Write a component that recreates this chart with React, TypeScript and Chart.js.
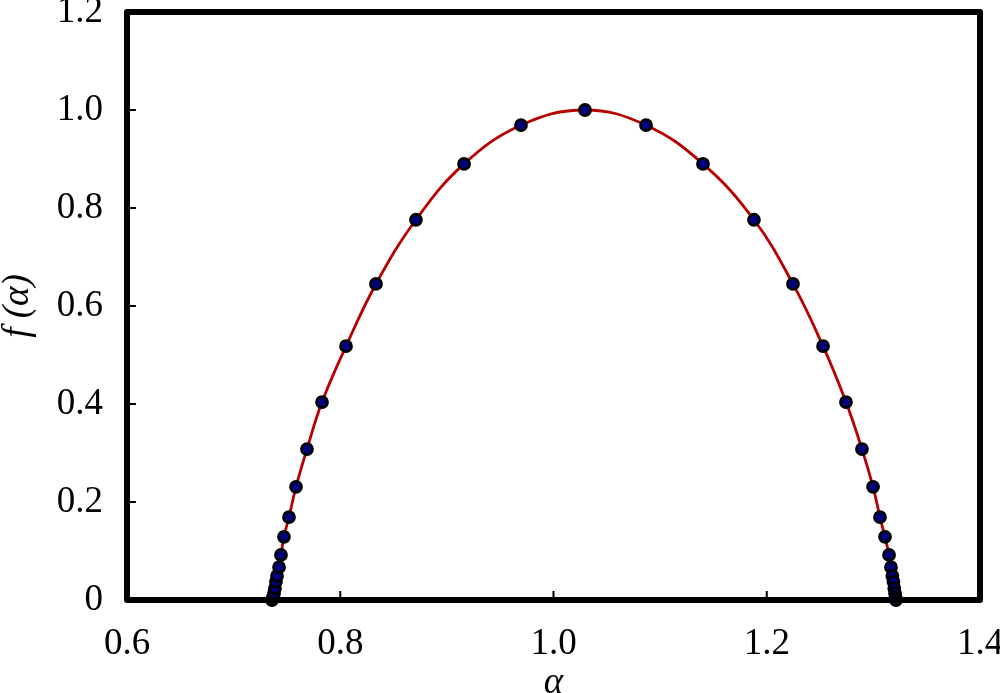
import React, { useEffect, useRef } from "react";
import { Chart, registerables } from "chart.js";

Chart.register(...registerables);

// multifractal spectrum points (alpha, f(alpha))
const alphaValues: number[] = [
  0.736, 0.7369, 0.7379, 0.7388, 0.7397, 0.7407, 0.7426, 0.7444, 0.7472, 0.7519,
  0.7585, 0.7688, 0.7829, 0.8054, 0.8335, 0.871, 0.9161, 0.9695, 1.0295,
  1.0868, 1.1402, 1.188, 1.2246, 1.2528, 1.2743, 1.2893, 1.2997, 1.3062, 1.3109,
  1.3147, 1.3165, 1.3178, 1.3188, 1.3196, 1.3203, 1.3208, 1.3212,
];
const fValues: number[] = [
  0.0, 0.006, 0.014, 0.024, 0.037, 0.049, 0.067, 0.092, 0.129, 0.169,
  0.231, 0.308, 0.404, 0.518, 0.645, 0.776, 0.89, 0.969, 1.0,
  0.969, 0.89, 0.776, 0.645, 0.518, 0.404, 0.308, 0.231, 0.169, 0.129,
  0.092, 0.067, 0.049, 0.037, 0.024, 0.014, 0.006, 0.0,
];
const xTickLabels: string[] = ["0.6", "0.8", "1.0", "1.2", "1.4"];
const yTickLabels: string[] = ["0", "0.2", "0.4", "0.6", "0.8", "1.0", "1.2"];

const FONT = '"Liberation Serif", "Times New Roman", Times, serif';

export default function App() {
  const ref = useRef<HTMLCanvasElement | null>(null);

  useEffect(() => {
    if (!ref.current) return;
    const n = Math.min(alphaValues.length, fValues.length);
    const pts = [] as { x: number; y: number }[];
    for (let i = 0; i < n; i++) pts.push({ x: alphaValues[i], y: fValues[i] });

    const frame = {
      id: "frame",
      afterDatasetsDraw(chart: any) {
        const { ctx, chartArea: a, scales } = chart;
        ctx.save();
        ctx.strokeStyle = "#000";
        ctx.lineWidth = 2;
        const xs = scales.x;
        const ys = scales.y;
        [0.8, 1.0, 1.2].forEach((v) => {
          const px = xs.getPixelForValue(v);
          ctx.beginPath();
          ctx.moveTo(px, a.bottom);
          ctx.lineTo(px, a.bottom - 9);
          ctx.stroke();
        });
        [0.2, 0.4, 0.6, 0.8, 1.0].forEach((v) => {
          const py = ys.getPixelForValue(v);
          ctx.beginPath();
          ctx.moveTo(a.left, py);
          ctx.lineTo(a.left + 9, py);
          ctx.stroke();
        });
        ctx.lineWidth = 6;
        ctx.lineJoin = "round";
        ctx.strokeRect(a.left, a.top, a.right - a.left, a.bottom - a.top);
        ctx.restore();
      },
    };

    const chart = new Chart(ref.current, {
      type: "scatter",
      data: {
        datasets: [
          {
            data: pts,
            showLine: true,
            borderColor: "#b80000",
            borderWidth: 2.8,
            tension: 0.4,
            pointRadius: 5.5,
            pointBorderWidth: 2.8,
            pointBackgroundColor: "#000080",
            pointBorderColor: "#000000",
            clip: false as any,
          },
        ],
      },
      options: {
        animation: false,
        responsive: false,
        maintainAspectRatio: false,
        layout: { padding: { left: 0, right: 20, top: 12, bottom: 0 } },
        plugins: { legend: { display: false }, tooltip: { enabled: false } },
        scales: {
          x: {
            type: "linear",
            min: 0.6,
            max: 1.4,
            grid: { display: false },
            border: { display: false },
            afterBuildTicks: (s: any) => {
              s.ticks = xTickLabels.map((t) => ({ value: parseFloat(t) }));
            },
            afterFit: (s: any) => {
              s.height = 93;
              s.paddingLeft = 0;
              s.paddingRight = 0;
            },
            ticks: {
              color: "#000",
              padding: 14,
              maxRotation: 0,
              autoSkip: false,
              font: { family: FONT, size: 37 },
              callback: (v: any) => {
                const i = xTickLabels.findIndex((t) => Math.abs(parseFloat(t) - v) < 1e-6);
                return i >= 0 ? xTickLabels[i] : "";
              },
            },
            title: {
              display: true,
              text: "α",
              color: "#000",
              padding: { top: 0, bottom: -12 },
              font: { family: FONT, size: 37, style: "italic" },
            },
          },
          y: {
            type: "linear",
            min: 0,
            max: 1.2,
            grid: { display: false },
            border: { display: false },
            afterBuildTicks: (s: any) => {
              s.ticks = yTickLabels.map((t) => ({ value: parseFloat(t) }));
            },
            afterFit: (s: any) => {
              s.width = 127;
              s.paddingTop = 0;
              s.paddingBottom = 0;
            },
            ticks: {
              color: "#000",
              padding: 16,
              autoSkip: false,
              font: { family: FONT, size: 37 },
              callback: (v: any) => {
                const i = yTickLabels.findIndex((t) => Math.abs(parseFloat(t) - v) < 1e-6);
                return i >= 0 ? yTickLabels[i] : "";
              },
            },
            title: {
              display: true,
              text: "f (α)",
              color: "#000",
              padding: { top: -4, bottom: 0 },
              font: { family: FONT, size: 37, style: "italic" },
            },
          },
        },
      },
      plugins: [frame],
    });
    let alive = true;
    if ((document as any).fonts && (document as any).fonts.load) {
      Promise.all([
        (document as any).fonts.load('37px "Liberation Serif"'),
        (document as any).fonts.load('italic 37px "Liberation Serif"'),
      ])
        .then(() => {
          if (alive) chart.update();
        })
        .catch(() => {});
    }
    return () => {
      alive = false;
      chart.destroy();
    };
  }, []);

  return (
    <div style={{ position: "absolute", left: 0, top: 0, width: 1000, height: 693, background: "#fff" }}>
      <span style={{ position: "absolute", left: -9999, fontFamily: "Liberation Serif" }}>0.6 α</span>
      <span style={{ position: "absolute", left: -9999, fontFamily: "Liberation Serif", fontStyle: "italic" }}>f α</span>
      <canvas ref={ref} width={1000} height={693} style={{ width: 1000, height: 693 }} />
    </div>
  );
}
